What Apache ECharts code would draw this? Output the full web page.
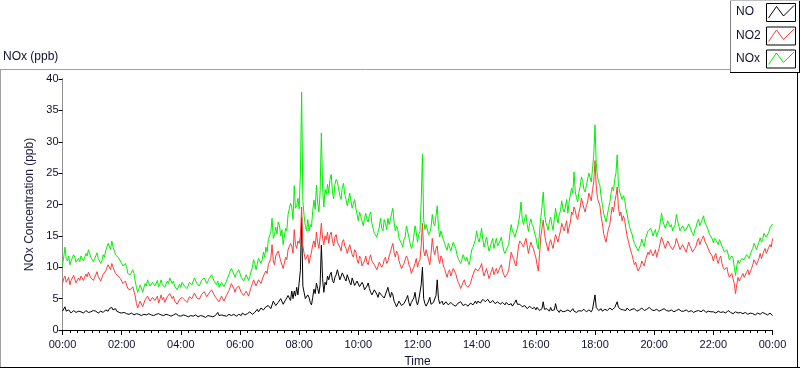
<!DOCTYPE html>
<html>
<head>
<meta charset="utf-8">
<script src="https://cdn.jsdelivr.net/npm/echarts@6/dist/echarts.min.js"></script>
<style>
html,body{margin:0;padding:0;background:#fff;}
#chart{width:800px;height:369px;}
</style>
</head>
<body>
<div id="chart"></div>
<script>
// Sampling step (minutes) of the series below, starting 00:00; one row per hour
const stepMinutes = 2.5;
const xTickLabels = ['00:00','02:00','04:00','06:00','08:00','10:00','12:00','14:00','16:00','18:00','20:00','22:00','00:00'];
const seriesNames = ['NO','NO2','NOx'];

const noValues = [
3.0,3.3,3.7,3.0,2.9,3.2,3.1,2.7,2.8,3.1,3.0,2.8,2.9,3.0,2.7,2.9,3.0,2.7,2.8,3.1,2.9,2.8,3.1,2.9,
2.9,3.1,2.8,3.0,3.0,2.7,2.7,3.0,3.1,2.8,2.9,3.2,3.2,3.0,3.4,3.1,3.6,3.2,3.1,3.4,3.0,2.9,2.8,3.0,
2.7,2.9,2.8,2.6,2.6,2.8,2.5,2.4,2.7,2.5,2.4,2.6,2.6,2.4,2.5,2.3,2.3,2.6,2.5,2.3,2.4,2.5,2.6,2.4,
2.4,2.6,2.3,2.4,2.5,2.3,2.6,2.4,2.4,2.2,2.3,2.5,2.5,2.3,2.4,2.6,2.2,2.4,2.4,2.2,2.6,2.4,2.3,2.5,
2.2,2.4,2.4,2.2,2.3,2.5,2.1,2.3,2.3,2.1,2.2,2.4,2.4,2.2,2.1,2.3,2.3,2.1,2.2,2.4,2.0,2.2,2.3,2.1,
2.2,2.4,2.1,2.3,2.3,2.2,2.8,2.3,2.2,2.4,2.1,2.3,2.4,2.2,2.3,2.5,2.6,2.3,2.2,2.5,2.4,2.2,2.3,2.5,
2.5,2.3,2.7,2.5,2.4,2.7,2.6,2.4,2.9,2.6,2.5,2.8,2.8,3.1,3.3,2.9,3.0,3.5,3.6,3.2,3.2,3.7,3.4,3.9,
4.0,3.4,3.5,4.6,4.8,3.9,3.7,4.4,4.3,5.0,5.2,4.1,3.9,4.8,4.6,5.5,5.6,4.7,6.2,5.0,6.2,5.4,6.8,5.6,
5.5,9.5,18.0,7.0,6.0,5.0,4.8,5.6,5.2,4.4,4.0,5.2,6.5,5.8,7.5,6.6,5.8,7.2,13.5,8.2,6.0,7.6,7.2,8.6,
8.0,8.8,9.2,7.9,7.5,8.4,8.8,9.6,9.5,8.0,8.2,9.1,9.0,8.2,7.8,8.8,8.5,7.6,7.2,8.3,8.0,7.1,7.0,7.8,
7.5,6.9,6.8,7.6,7.2,6.4,6.2,7.0,7.5,6.6,6.0,5.6,5.5,6.4,6.5,5.7,5.2,6.0,6.2,5.5,5.8,5.1,5.0,6.2,
6.8,5.9,5.2,6.0,5.6,4.6,4.2,3.7,3.8,4.6,4.5,3.9,3.6,4.2,4.0,5.0,5.5,4.4,3.8,4.4,4.2,5.1,6.0,4.6,
4.0,4.8,4.5,7.2,10.0,5.0,4.2,3.8,4.0,4.6,5.2,4.1,3.8,4.4,4.6,5.5,8.0,5.0,4.2,3.9,4.6,4.0,4.0,4.5,
4.3,4.0,3.9,4.4,4.5,4.0,4.2,3.8,3.8,4.3,4.0,4.5,4.4,3.9,3.7,4.1,4.2,3.8,3.8,4.3,4.6,4.0,4.3,4.6,
4.2,4.6,4.8,4.3,4.5,4.9,5.0,4.5,4.6,4.9,4.8,4.3,4.4,4.7,4.6,4.2,4.2,4.5,4.5,4.1,4.0,4.4,4.3,4.0,
4.4,4.1,4.0,4.3,4.2,3.8,3.9,4.4,4.8,4.1,3.8,4.1,4.0,3.7,3.6,3.9,3.8,3.4,3.5,3.8,3.7,3.4,3.4,3.6,
3.2,3.6,3.5,3.1,3.1,3.4,4.5,3.3,3.0,3.4,3.3,3.0,3.6,3.1,2.9,3.2,4.2,3.3,3.0,2.8,3.2,3.4,2.9,3.1,
3.0,3.3,3.2,2.9,2.9,3.2,3.4,3.0,3.1,2.8,2.8,3.1,3.3,3.0,3.0,3.3,3.2,2.9,2.9,3.2,3.1,2.9,3.3,3.6,
5.6,3.6,3.4,3.1,3.2,3.4,3.0,3.2,3.3,3.0,3.1,3.4,3.5,3.2,3.2,3.5,3.6,3.3,4.5,3.6,3.8,3.3,3.4,3.2,
3.3,3.1,3.5,3.2,3.1,3.3,3.3,3.1,3.4,3.2,3.0,3.3,3.2,3.4,3.5,3.2,3.1,3.3,3.3,3.1,3.6,3.3,3.2,3.0,
3.1,3.3,3.3,3.0,3.0,3.2,3.2,3.0,3.4,3.1,3.1,3.3,3.0,2.9,3.2,3.0,2.9,3.1,3.1,3.3,3.3,3.0,3.0,3.2,
3.0,2.9,3.2,3.0,2.9,3.1,3.1,2.9,2.8,3.0,3.0,2.8,3.1,2.9,2.9,3.1,3.2,2.9,2.8,3.0,3.0,2.8,2.9,3.1,
2.9,2.7,2.7,3.0,3.0,2.8,2.8,3.0,2.9,2.7,2.7,3.0,3.1,2.8,2.8,2.6,2.6,2.8,2.9,2.7,2.7,2.9,2.8,2.6,
2.6,2.8,2.8,2.5,2.5,2.7,2.7,2.5,2.6,2.8,2.4,2.6,2.7,2.5,2.5,2.7,2.8,2.5,2.6,2.4,2.4,2.6,2.7,2.5,
2.3];

const no2Values = [
7.4,8.2,8.6,7.6,7.8,8.4,7.2,7.9,8.0,8.7,8.4,7.5,7.6,8.3,7.9,8.6,8.8,7.9,8.2,8.9,8.5,9.2,9.0,8.3,
8.6,7.9,8.0,8.8,9.3,8.5,8.4,7.8,8.0,8.9,8.7,9.4,9.6,10.4,10.2,9.6,10.6,10.0,9.8,9.0,9.2,8.6,8.5,8.2,
7.9,7.4,7.2,7.8,7.5,6.6,6.8,6.4,6.2,6.9,6.6,5.4,4.2,3.5,3.6,4.6,4.4,3.7,3.8,4.8,4.6,5.4,5.2,4.6,
4.6,5.2,5.5,4.7,4.8,5.4,4.3,4.9,5.6,4.8,5.2,4.4,4.6,5.3,5.0,5.8,5.9,5.0,5.4,4.6,4.7,4.1,4.2,4.9,
4.6,5.2,5.4,4.8,5.0,4.4,4.5,5.3,5.6,5.0,5.2,5.9,5.8,5.1,5.3,4.9,5.0,5.7,5.6,6.1,6.0,5.3,5.4,5.9,
5.8,6.4,6.2,5.6,5.5,5.0,5.0,4.5,4.6,5.4,5.2,4.6,4.8,5.5,5.6,6.3,6.8,7.4,7.6,6.6,6.0,6.7,6.4,7.0,
6.8,6.0,5.8,5.5,5.3,6.2,6.0,5.4,5.6,6.8,7.4,8.0,7.8,7.0,7.2,8.0,8.2,7.4,7.6,8.6,8.4,9.4,9.0,10.4,
10.2,11.4,13.6,11.0,10.4,11.8,11.6,12.6,12.4,11.0,10.8,9.8,10.0,11.6,11.2,12.8,12.6,13.8,13.4,12.2,16.0,13.6,13.0,14.2,
13.8,15.0,19.6,13.4,12.2,11.2,11.0,12.0,10.6,11.6,12.4,13.6,14.2,13.2,15.6,14.0,13.0,14.8,17.0,14.6,13.6,15.0,14.4,15.6,
13.8,15.2,15.6,14.2,13.4,14.8,15.2,14.0,14.0,13.2,12.6,14.0,14.4,13.4,13.0,12.2,12.2,13.6,13.4,12.0,11.6,12.8,12.4,11.2,
10.6,11.8,11.4,10.2,10.0,11.0,11.8,10.8,10.4,11.4,12.0,11.0,11.2,10.4,10.2,9.6,9.8,10.8,11.0,10.0,10.4,11.2,11.6,10.6,
11.0,11.8,12.4,13.2,13.8,12.4,11.6,12.6,12.2,11.0,10.4,9.8,9.6,10.6,10.8,11.8,11.4,10.4,10.0,9.0,9.2,10.0,10.6,11.4,
10.0,10.8,11.2,13.4,17.0,12.6,11.8,12.8,12.6,11.2,10.4,12.2,14.6,12.8,12.0,13.0,13.4,11.4,10.6,11.8,11.4,10.2,9.8,9.0,
8.4,9.2,9.6,8.6,8.8,9.8,10.0,9.0,8.2,7.6,7.2,6.6,6.8,7.6,8.0,7.2,7.4,6.8,6.6,7.4,8.2,8.8,9.0,9.8,
10.0,9.4,9.2,10.0,10.6,9.4,8.6,9.2,9.8,9.0,8.2,8.8,9.4,10.0,8.8,9.4,9.8,9.0,9.2,10.0,10.4,9.4,8.8,8.4,
8.2,9.0,9.6,11.0,12.4,11.8,11.4,10.6,10.2,11.8,13.4,14.2,14.5,13.6,13.2,14.0,14.6,13.4,12.2,13.2,14.0,13.4,13.0,12.2,
11.6,10.4,9.4,12.0,14.8,16.2,17.5,15.4,14.2,13.4,12.6,13.8,14.4,13.6,13.0,14.2,15.2,14.6,14.0,15.0,15.8,17.0,16.4,15.8,
16.6,17.4,15.4,16.4,17.2,18.8,18.4,19.6,19.0,18.0,17.6,18.8,19.6,21.0,20.8,19.4,18.8,19.8,20.4,21.8,21.6,20.6,22.4,23.6,
27.0,23.0,21.0,20.4,19.8,18.0,17.0,15.4,14.6,14.0,15.2,16.2,16.8,18.4,19.6,18.8,20.4,21.4,22.8,19.6,18.2,18.8,17.4,18.2,
17.6,16.2,15.0,14.2,13.4,12.6,12.0,11.2,10.4,10.8,10.0,9.4,9.2,10.2,11.0,10.6,10.2,11.2,11.4,12.4,12.0,12.8,12.6,11.8,
12.2,12.8,11.6,12.4,13.0,14.0,14.8,14.2,14.0,13.0,13.2,14.2,14.4,13.4,13.6,12.8,12.6,13.6,14.6,14.0,13.8,12.8,12.8,13.6,
13.6,12.8,12.4,13.2,14.0,13.4,13.0,12.4,12.2,13.0,13.4,14.2,14.6,13.6,13.8,14.6,15.0,14.2,14.2,13.4,13.2,12.4,12.6,11.8,
11.0,11.8,12.2,11.2,10.6,11.4,11.8,10.6,10.0,9.6,9.4,10.0,9.0,8.4,8.2,9.0,8.8,7.4,5.8,7.2,8.4,7.8,7.6,8.6,
9.0,8.4,8.2,9.2,9.6,8.8,8.8,9.8,10.4,11.2,11.0,10.4,10.2,11.4,12.2,11.4,11.6,12.6,13.0,12.2,12.4,13.2,13.6,13.2,
14.6];

const noxValues = [
10.4,11.6,13.2,11.4,11.0,11.8,10.4,11.0,10.8,12.0,11.6,10.8,10.6,11.4,10.9,11.8,12.0,11.0,11.2,12.2,11.8,12.8,12.6,11.6,
11.5,10.9,10.8,11.8,12.3,11.4,11.1,10.6,11.1,12.0,11.6,12.6,12.8,13.8,13.6,12.8,14.2,13.2,12.9,12.0,12.2,11.6,11.3,11.0,
10.6,10.2,10.0,10.6,10.1,9.0,9.3,8.8,8.9,9.6,9.0,7.8,6.8,6.0,6.1,7.2,6.7,6.0,6.3,7.4,7.0,8.0,7.8,7.0,
7.0,7.6,7.8,7.0,7.3,7.9,6.9,7.3,8.0,7.2,7.5,6.8,7.1,7.8,7.4,8.3,8.1,7.4,7.8,7.0,7.3,6.4,6.5,7.3,
6.8,7.6,7.8,7.0,7.3,6.6,6.6,7.6,7.9,7.2,7.4,8.3,8.2,7.4,7.4,7.0,7.3,8.0,7.8,8.3,8.0,7.4,7.7,8.2,
8.0,8.8,8.3,7.8,7.8,7.2,7.8,6.8,6.8,7.6,7.3,6.9,7.2,7.8,7.9,8.8,9.4,9.8,10.0,8.9,8.4,9.0,8.7,9.6,
9.3,8.4,8.5,7.8,7.7,8.8,8.6,7.9,8.5,9.4,9.9,11.2,10.6,9.6,10.5,11.4,11.2,10.6,11.2,12.4,11.6,13.2,12.4,14.4,
14.2,15.6,17.8,14.6,15.2,16.4,15.3,17.2,16.7,15.0,16.0,13.6,13.9,16.2,15.8,18.4,18.2,20.2,19.6,17.6,23.0,19.4,19.8,21.0,
19.3,25.0,37.9,20.6,18.2,16.6,15.8,17.6,15.8,16.8,16.4,19.0,20.7,19.2,23.1,20.4,18.8,22.0,31.4,22.6,19.6,22.4,21.6,23.2,
21.8,24.0,24.8,22.0,20.9,23.2,24.0,23.6,23.5,21.4,20.8,22.8,23.4,21.6,20.8,19.8,20.7,21.8,20.6,19.4,19.6,20.8,19.4,18.4,
17.4,18.8,19.0,17.4,16.6,17.8,18.6,17.6,17.2,18.4,18.8,17.0,16.2,15.4,15.6,14.8,14.6,16.4,17.8,16.2,15.8,17.6,17.0,16.0,
17.8,16.8,17.6,18.6,19.4,17.2,15.8,16.6,16.0,14.6,14.9,13.8,13.2,14.4,14.8,16.6,16.9,14.8,13.8,13.0,13.4,15.0,16.6,15.6,
14.0,15.2,15.7,20.4,28.0,17.6,16.0,16.8,16.6,15.2,15.6,16.4,18.4,17.0,16.6,18.2,19.8,16.4,14.8,15.8,16.0,14.4,13.8,13.2,
12.7,13.8,13.5,12.6,13.3,14.0,14.2,13.0,12.0,11.4,11.2,10.6,11.2,12.0,11.7,11.0,11.6,10.8,10.4,11.6,12.8,13.2,13.3,14.4,
15.8,14.6,14.0,15.0,16.2,14.4,13.2,14.0,14.8,13.6,12.6,13.2,14.0,14.6,13.0,13.8,14.6,13.4,13.4,14.2,14.8,13.6,12.6,12.2,
12.4,13.2,13.6,15.4,16.8,15.8,15.4,14.8,14.6,16.2,17.2,18.4,20.4,17.6,16.8,17.8,18.4,16.8,15.7,17.0,17.7,16.8,16.4,15.4,
14.8,13.6,12.9,15.6,17.9,19.6,22.0,18.6,17.2,16.6,15.9,17.2,18.0,16.8,15.9,17.6,19.4,18.0,17.0,18.4,19.0,20.6,19.3,18.8,
19.6,20.8,18.6,20.4,20.1,22.6,21.8,25.2,22.1,21.0,20.4,22.0,22.9,24.4,23.8,22.4,22.0,23.0,23.3,25.0,24.7,23.6,25.7,27.9,
32.7,26.6,24.4,23.6,23.0,21.2,20.0,18.6,17.9,17.2,18.3,19.4,20.3,21.8,22.8,22.2,24.0,25.0,27.9,23.2,22.0,22.2,20.8,21.4,
20.9,19.4,18.5,17.4,16.5,15.8,15.3,14.4,13.8,14.0,13.0,12.6,12.4,13.6,14.5,13.8,13.3,14.6,14.7,15.8,15.6,16.2,15.8,15.0,
15.3,16.0,14.9,15.6,16.0,17.2,18.6,17.4,17.4,16.2,16.3,17.4,17.4,16.4,16.8,15.8,15.5,16.8,18.4,17.4,17.1,15.8,15.8,16.6,
16.6,15.8,15.6,16.4,16.9,16.4,16.1,15.4,15.0,16.0,16.4,17.2,17.7,16.6,16.7,17.6,18.2,17.2,17.0,16.4,16.2,15.2,15.5,14.6,
13.9,14.6,14.9,14.0,13.6,14.4,14.6,13.4,12.9,12.4,12.1,12.8,12.1,11.2,11.0,11.8,11.4,10.0,8.7,10.2,11.1,10.6,10.4,11.4,
11.6,11.2,11.0,12.0,12.1,11.4,11.5,12.6,13.0,13.8,13.4,12.8,12.9,14.0,14.7,14.0,14.4,15.4,15.6,14.8,14.8,15.6,16.3,16.0,
16.9];

const FONT = 'Liberation Sans';
const chart = echarts.init(document.getElementById('chart'), null, {renderer: 'canvas'});
const toPairs = arr => arr.map((v, i) => [i * stepMinutes, v]);
const colors = ['#000000', '#ff3c3c', '#00f000'];

function sampleBox(y0) {
  return [
    {type: 'rect', shape: {x: 766.5, y: y0 + 0.5, width: 29, height: 18}, style: {fill: '#fff', stroke: '#000', lineWidth: 1}},
    {type: 'polyline', shape: {points: [[768.5, y0 + 15], [776.5, y0 + 3.5], [783.5, y0 + 13], [794, y0 + 2.5]]}, style: {stroke: null, fill: null, lineWidth: 1}}
  ];
}

const legendGraphics = [];
const boxYs = [3, 26.5, 49.5];
seriesNames.forEach((n, i) => {
  legendGraphics.push({type: 'text', left: 736, top: boxYs[i] + 3, style: {text: n, font: '12px ' + FONT, fill: '#101030'}});
  const b = sampleBox(boxYs[i]);
  b[1].style.stroke = colors[i];
  legendGraphics.push(b[0], b[1]);
});

const option = {
  backgroundColor: '#fff',
  animation: false,
  grid: {left: 62.5, right: 27.5, top: 79, bottom: 39, containLabel: false, outerBoundsMode: 'none'},
  xAxis: [{
    type: 'value', min: 0, max: 1440, interval: 120,
    name: 'Time', nameLocation: 'middle', nameGap: 26,
    nameTextStyle: {color: '#101030', fontFamily: FONT, fontSize: 12},
    axisLine: {show: true, lineStyle: {color: '#808080', width: 1}},
    axisTick: {show: true, length: 5, lineStyle: {color: '#000'}},
    minorTick: {show: true, splitNumber: 8, length: 3, lineStyle: {color: '#000'}},
    splitLine: {show: false},
    axisLabel: {margin: 9, color: '#101030', fontFamily: FONT, fontSize: 11,
      formatter: v => xTickLabels[Math.round(v / 120)]}
  }, {
    type: 'value', min: 0, max: 1440, position: 'top',
    axisLine: {show: true, lineStyle: {color: '#000', width: 1}},
    axisTick: {show: false}, axisLabel: {show: false}, splitLine: {show: false}
  }],
  yAxis: [{
    type: 'value', min: 0, max: 40, interval: 5,
    name: 'NOx Concentration (ppb)', nameLocation: 'middle', nameGap: 24,
    nameTextStyle: {color: '#202040', fontFamily: FONT, fontSize: 12},
    axisLine: {show: true, lineStyle: {color: '#000', width: 1}},
    axisTick: {show: true, length: 4, lineStyle: {color: '#000'}},
    splitLine: {show: false},
    axisLabel: {margin: 4, color: '#101030', fontFamily: FONT, fontSize: 11}
  }, {
    type: 'value', min: 0, max: 40, position: 'right',
    axisLine: {show: true, lineStyle: {color: '#909090', width: 1}},
    axisTick: {show: false}, axisLabel: {show: false}, splitLine: {show: false}
  }],
  series: [
    {name: 'NO', type: 'line', data: toPairs(noValues), showSymbol: false, lineStyle: {color: colors[0], width: 1}, z: 3},
    {name: 'NO2', type: 'line', data: toPairs(no2Values), showSymbol: false, lineStyle: {color: colors[1], width: 1}, z: 4},
    {name: 'NOx', type: 'line', data: toPairs(noxValues), showSymbol: false, lineStyle: {color: colors[2], width: 1}, z: 5}
  ],
  graphic: [
    {type: 'text', left: 3, top: 51, style: {text: 'NOx (ppb)', font: '12px ' + FONT, fill: '#101030'}},
    {type: 'line', shape: {x1: 0, y1: 69.5, x2: 731, y2: 69.5}, style: {stroke: '#a0a0a0', lineWidth: 1}},
    {type: 'line', shape: {x1: 0.5, y1: 69.5, x2: 0.5, y2: 368}, style: {stroke: '#a0a0a0', lineWidth: 1}},
    {type: 'line', shape: {x1: 0, y1: 367.5, x2: 800, y2: 367.5}, style: {stroke: '#000', lineWidth: 1}},
    {type: 'line', shape: {x1: 797.5, y1: 72, x2: 797.5, y2: 368}, style: {stroke: '#000', lineWidth: 1}},
    {type: 'line', shape: {x1: 730.5, y1: 0, x2: 730.5, y2: 73}, style: {stroke: '#808080', lineWidth: 1}},
    {type: 'line', shape: {x1: 730, y1: 72.5, x2: 800, y2: 72.5}, style: {stroke: '#000', lineWidth: 1}},
    {type: 'line', shape: {x1: 799.5, y1: 0, x2: 799.5, y2: 73}, style: {stroke: '#000', lineWidth: 1}},
    {type: 'line', shape: {x1: 730, y1: 0.5, x2: 800, y2: 0.5}, style: {stroke: '#c0c0c0', lineWidth: 1}}
  ].concat(legendGraphics)
};
chart.setOption(option);
</script>
</body>
</html>
